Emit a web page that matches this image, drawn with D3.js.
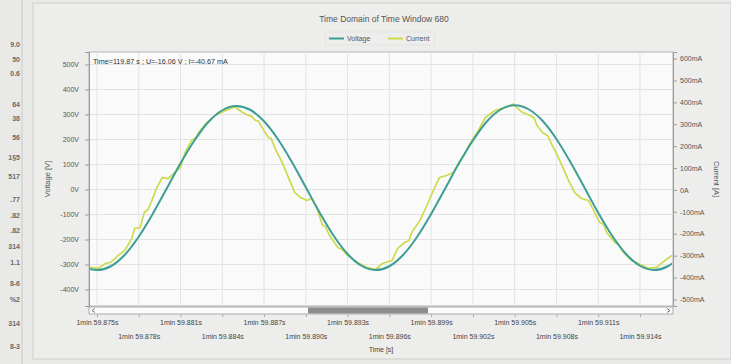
<!DOCTYPE html>
<html><head><meta charset="utf-8">
<script src="https://cdn.jsdelivr.net/npm/d3@7"></script>
<style>
html,body{margin:0;padding:0;background:#e9e9e7;}
svg{display:block;font-family:"Liberation Sans",Arial,sans-serif;}
</style></head><body>
<svg id="chart" width="731" height="364"></svg>
<script>
// ---------- data ----------
const chartTitle = "Time Domain of Time Window 680";
const seriesNames = ["Voltage", "Current"];
const cursorText = "Time=119.87 s ; U=-16.06 V ; I=-40.67 mA";
const xAxisTitle = "Time [s]";
const yLeftTitle = "Voltage [V]";
const yRightTitle = "Current [A]";

// time in ms after 1min 59.875s
const timeDomainMs = [-0.5, 41.3];
const tickTimesMs = [0, 3, 6, 9, 12, 15, 18, 21, 24, 27, 30, 33, 36, 39];
const tickLabels = ["1min 59.875s", "1min 59.878s", "1min 59.881s", "1min 59.884s", "1min 59.887s",
  "1min 59.890s", "1min 59.893s", "1min 59.896s", "1min 59.899s", "1min 59.902s",
  "1min 59.905s", "1min 59.908s", "1min 59.911s", "1min 59.914s"];

const voltageDomain = [-466, 550];
const voltageTicks = [500, 400, 300, 200, 100, 0, -100, -200, -300, -400];
const voltageTickLabels = ["500V", "400V", "300V", "200V", "100V", "0V", "-100V", "-200V", "-300V", "-400V"];

const currentDomain = [-530, 630];
const currentTicks = [600, 500, 400, 300, 200, 100, 0, -100, -200, -300, -400, -500];
const currentTickLabels = ["600mA", "500mA", "400mA", "300mA", "200mA", "100mA", "0A",
  "-100mA", "-200mA", "-300mA", "-400mA", "-500mA"];

const voltageTimeMs = [-0.5, 0, 1, 2, 3, 4, 5, 6, 7, 8, 9, 10, 11, 12, 13, 14, 15, 16, 17, 18, 19, 20,
  21, 22, 23, 24, 25, 26, 27, 28, 29, 30, 31, 32, 33, 34, 35, 36, 37, 38, 39, 40, 41, 41.3];
const voltageValues = [-318, -322, -307, -261, -189, -98, 3, 105, 196, 270, 317, 334, 319, 273, 201, 110,
  9, -93, -185, -258, -305, -322, -307, -261, -189, -98, 3, 105, 196, 272, 320, 337, 321, 275, 202, 110,
  9, -93, -185, -258, -305, -322, -307, -296];

const currentTimeMs = [-0.5, 0.1, 0.6, 1.0, 1.3, 1.5, 2.0, 2.5, 2.7, 3.1, 3.4, 3.7, 4.0, 4.3, 4.7, 5.1, 5.5, 6.0,
  6.3, 6.8, 7.1, 7.3, 7.9, 8.2, 8.5, 9.2, 9.9, 10.4, 10.8, 11.1, 11.4, 11.6, 11.9, 12.3, 12.5, 12.8, 13.3, 13.6, 14.2, 14.6, 15.1,
  15.4, 15.8, 16.2, 16.4, 16.7, 17.3, 17.6, 18.0, 18.7, 19.4, 20.0, 20.5, 21.2, 21.6, 22.1, 22.4, 22.6, 23.2, 23.7, 24.1,
  24.6, 25.1, 25.6, 26.1, 26.4, 26.7, 27.3, 27.9, 28.6, 29.3, 29.9, 30.5, 31.1, 31.4, 31.6, 32.0, 32.4, 32.7, 33.0, 33.4,
  33.8, 34.3, 34.8, 35.3, 35.6, 36.1, 36.4, 36.6, 37.2, 37.5, 37.8, 38.4, 39.2, 39.6, 40.2, 40.8, 41.3];
const currentValues = [-354, -358, -336, -330, -313, -300, -276, -222, -176, -172, -103, -86, -39, 11, 57, 52, 75, 103,
  167, 226, 238, 262, 308, 322, 340, 362, 380, 356, 342, 336, 317, 314, 281, 240, 236, 189, 126, 80, -11, -34, -48,
  -38, -84, -162, -166, -208, -263, -272, -299, -331, -354, -363, -336, -322, -267, -240, -232, -194, -139, -71, -11,
  57, 66, 80, 135, 160, 203, 262, 331, 363, 377, 392, 356, 340, 330, 294, 262, 246, 203, 167, 112,
  53, -11, -39, -48, -84, -148, -158, -194, -240, -252, -285, -322, -345, -358, -354, -322, -299];

// partial numbers of a neighbouring table visible at the left edge of the photo
const sideTexts = ["9.0", "50", "0.6", "64", "38", "56", "1\u00A75", "517", ".77", ".82", ".82", "314",
  "1.1", "8-6", "%2", "314", "8-3"];

// ---------- drawing ----------
const colors = { voltage: "#3d9e96", current: "#cdda4c" };
const svg = d3.select("#chart");
const W = 731, H = 364;
const plot = { left: 89, right: 673, top: 52, bottom: 306 };

// page panel
svg.append("rect").attr("x", 0).attr("y", 0).attr("width", W).attr("height", H).attr("fill", "#e9e9e7");
svg.append("rect").attr("x", 33).attr("y", 3).attr("width", W - 33).attr("height", 356)
  .attr("fill", "#ededeb").attr("stroke", "#cfcfcd");
svg.append("line").attr("x1", 22).attr("x2", 22).attr("y1", 0).attr("y2", H).attr("stroke", "#c9c9c7");
const sideY = [44, 59, 73, 104, 118, 137, 157, 176, 199, 215, 230, 246, 262, 283, 299, 323, 346];
svg.append("g").selectAll("text").data(sideTexts).join("text")
  .attr("x", 20).attr("y", (d, i) => sideY[i] + 3).attr("text-anchor", "end")
  .attr("font-size", 7).attr("font-weight", "bold").attr("fill", "#6a6a6a").text(d => d);

const x = d3.scaleLinear().domain(timeDomainMs).range([plot.left + 1, plot.right - 1]);
const yV = d3.scaleLinear().domain(voltageDomain).range([plot.bottom, plot.top]);
const yI = d3.scaleLinear().domain(currentDomain).range([plot.bottom, plot.top]);

// plot background
svg.append("rect").attr("x", plot.left).attr("y", plot.top)
  .attr("width", plot.right - plot.left).attr("height", plot.bottom - plot.top)
  .attr("fill", "#fafafa").attr("stroke", "#b3b3b3");

// grid
const grid = svg.append("g");
grid.selectAll("line.v").data(tickTimesMs).join("line").attr("class", "v")
  .attr("x1", d => x(d)).attr("x2", d => x(d)).attr("y1", plot.top).attr("y2", plot.bottom)
  .attr("stroke", "#e3e3e3");
grid.selectAll("line.h").data(voltageTicks).join("line").attr("class", "h")
  .attr("x1", plot.left).attr("x2", plot.right).attr("y1", d => yV(d)).attr("y2", d => yV(d))
  .attr("stroke", "#e3e3e3");

// left axis
const axL = svg.append("g").attr("transform", `translate(${plot.left},0)`)
  .call(d3.axisLeft(yV).tickValues(voltageTicks).tickSize(4).tickPadding(6)
    .tickFormat((d, i) => voltageTickLabels[i]));
axL.select(".domain").attr("stroke", "#9a9a9a");
axL.selectAll(".tick line").attr("stroke", "#9a9a9a");
axL.selectAll("text").attr("font-size", 7).attr("fill", "#555").attr("font-family", "Liberation Sans, Arial");

// right axis
const axR = svg.append("g").attr("transform", `translate(${plot.right},0)`)
  .call(d3.axisRight(yI).tickValues(currentTicks).tickSize(4).tickPadding(3)
    .tickFormat((d, i) => currentTickLabels[i]));
axR.select(".domain").attr("stroke", "#9a9a9a");
axR.selectAll(".tick line").attr("stroke", "#9a9a9a");
axR.selectAll("text").attr("font-size", 7).attr("fill", "#555").attr("font-family", "Liberation Sans, Arial");

// axis titles
svg.append("text").attr("transform", `translate(50,${(plot.top + plot.bottom) / 2}) rotate(-90)`)
  .attr("text-anchor", "middle").attr("font-size", 7.5).attr("fill", "#555").text(yLeftTitle);
svg.append("text").attr("transform", `translate(714,${(plot.top + plot.bottom) / 2}) rotate(90)`)
  .attr("text-anchor", "middle").attr("font-size", 7.5).attr("fill", "#555").text(yRightTitle);

// scrollbar
const sb = svg.append("g");
sb.append("rect").attr("x", plot.left).attr("y", 307).attr("width", plot.right - plot.left).attr("height", 7)
  .attr("fill", "#fbfbfb").attr("stroke", "#9c9c9c").attr("stroke-width", 0.8);
sb.append("rect").attr("x", 308).attr("y", 307.5).attr("width", 120).attr("height", 6)
  .attr("fill", "#8d8d8d");
sb.append("path").attr("d", "M95,308.5 L92,310.5 L95,312.5").attr("fill", "none").attr("stroke", "#555").attr("stroke-width", 0.8);
sb.append("path").attr("d", "M667,308.5 L670,310.5 L667,312.5").attr("fill", "none").attr("stroke", "#555").attr("stroke-width", 0.8);

// bottom axis (staggered labels)
const axB = svg.append("g").attr("transform", `translate(0,314)`)
  .call(d3.axisBottom(x).tickValues(tickTimesMs).tickSize(3).tickFormat((d, i) => tickLabels[i]));
axB.select(".domain").remove();
axB.selectAll(".tick line").attr("stroke", "#aaa");
axB.selectAll("text").attr("font-size", 7).attr("fill", "#444").attr("font-family", "Liberation Sans, Arial")
  .attr("dy", null).attr("y", (d, i) => i % 2 === 0 ? 11 : 25);
svg.append("text").attr("x", (plot.left + plot.right) / 2).attr("y", 352).attr("text-anchor", "middle")
  .attr("font-size", 7).attr("fill", "#444").text(xAxisTitle);

// series
const clip = svg.append("clipPath").attr("id", "clip").append("rect")
  .attr("x", plot.left).attr("y", plot.top).attr("width", plot.right - plot.left).attr("height", plot.bottom - plot.top);
const current = currentTimeMs.map((t, i) => [t, currentValues[i]]);
const voltage = voltageTimeMs.map((t, i) => [t, voltageValues[i]]);
svg.append("path").datum(current).attr("clip-path", "url(#clip)")
  .attr("d", d3.line().x(d => x(d[0])).y(d => yI(d[1])).curve(d3.curveLinear))
  .attr("fill", "none").attr("stroke", colors.current).attr("stroke-width", 1.7).attr("stroke-linejoin", "round");
svg.append("path").datum(voltage).attr("clip-path", "url(#clip)")
  .attr("d", d3.line().x(d => x(d[0])).y(d => yV(d[1])).curve(d3.curveMonotoneX))
  .attr("fill", "none").attr("stroke", colors.voltage).attr("stroke-width", 2);

// cursor readout
svg.append("text").attr("x", plot.left + 4).attr("y", 64).attr("font-size", 7.2).attr("fill", "#333").text(cursorText);

// title
svg.append("text").attr("x", 384).attr("y", 22).attr("text-anchor", "middle")
  .attr("font-size", 8.5).attr("fill", "#555").text(chartTitle);

// legend
const lg = svg.append("g");
lg.append("rect").attr("x", 325).attr("y", 32).attr("width", 110).attr("height", 13)
  .attr("fill", "none").attr("stroke", "#dcdcdc").attr("stroke-width", 0.6);
const legendItems = [{ name: seriesNames[0], color: colors.voltage, x: 329 }, { name: seriesNames[1], color: colors.current, x: 388 }];
legendItems.forEach(it => {
  lg.append("line").attr("x1", it.x).attr("x2", it.x + 15).attr("y1", 38.5).attr("y2", 38.5)
    .attr("stroke", it.color).attr("stroke-width", 2);
  lg.append("text").attr("x", it.x + 18).attr("y", 41).attr("font-size", 7).attr("fill", "#555").text(it.name);
});
</script>
</body></html>
